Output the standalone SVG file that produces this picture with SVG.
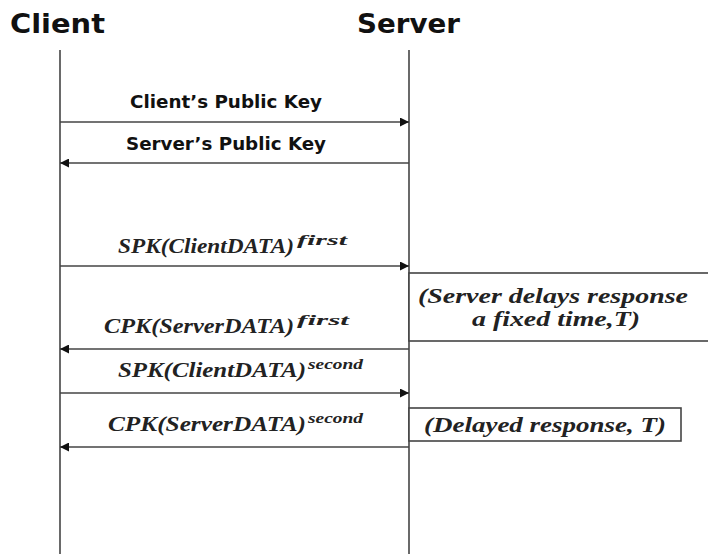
<svg xmlns="http://www.w3.org/2000/svg" width="708" height="554" viewBox="0 0 708 554">
  <defs>
    <marker id="head" viewBox="0 0 10 10" refX="10" refY="5" markerWidth="11" markerHeight="9" markerUnits="userSpaceOnUse" orient="auto">
      <path d="M0,0 L10,5 L0,10 z" fill="#111"/>
    </marker>
    <style>
      .title { font-family: "DejaVu Sans", "Noto Sans", sans-serif; font-weight: bold; font-size: 27px; fill: #111; }
      .lbl { font-family: "DejaVu Sans", "Noto Sans", sans-serif; font-weight: bold; font-size: 17px; fill: #111; }
      .math { font-family: "Liberation Serif", "DejaVu Serif", serif; font-weight: bold; font-style: italic; font-size: 20px; fill: #222; }
      .sup { font-size: 14px; }
      .life { stroke: #444; stroke-width: 1.6; fill: none; }
      .msg { stroke: #444; stroke-width: 1.6; fill: none; marker-end: url(#head); }
      .box { stroke: #444; stroke-width: 1.6; fill: #fff; }
    </style>
  </defs>
  <rect width="708" height="554" fill="#fff"/>

  <g id="client">
    <text class="title" x="10" y="33" textLength="95" lengthAdjust="spacingAndGlyphs">Client</text>
    <line class="life" x1="60" y1="50" x2="60" y2="554"/>
  </g>
  <g id="server">
    <text class="title" x="357" y="33" textLength="103" lengthAdjust="spacingAndGlyphs">Server</text>
    <line class="life" x1="409" y1="50" x2="409" y2="554"/>
  </g>

  <g id="delay-note">
    <rect class="box" x="409" y="273" width="300" height="68"/>
    <text class="math" x="418" y="303" textLength="270" lengthAdjust="spacingAndGlyphs">(Server delays response</text>
    <text class="math" x="472" y="326" textLength="168" lengthAdjust="spacingAndGlyphs">a fixed time,T)</text>
  </g>
  <g id="delayed-response-note">
    <rect class="box" x="409" y="408" width="272" height="33"/>
    <text class="math" x="424" y="432" textLength="242" lengthAdjust="spacingAndGlyphs">(Delayed response, T)</text>
  </g>

  <g id="connectors">
    <line class="msg" x1="60" y1="122" x2="409" y2="122"/>
    <line class="msg" x1="409" y1="163" x2="60" y2="163"/>
    <line class="msg" x1="60" y1="266" x2="409" y2="266"/>
    <line class="msg" x1="409" y1="349" x2="60" y2="349"/>
    <line class="msg" x1="60" y1="393" x2="409" y2="393"/>
    <line class="msg" x1="409" y1="447" x2="60" y2="447"/>
  </g>

  <g id="labels">
    <text class="lbl" x="130" y="108" textLength="192" lengthAdjust="spacingAndGlyphs">Client’s Public Key</text>
    <text class="lbl" x="126" y="150" textLength="200" lengthAdjust="spacingAndGlyphs">Server’s Public Key</text>
    <text class="math" y="253"><tspan x="118" textLength="176" lengthAdjust="spacingAndGlyphs">SPK(ClientDATA)</tspan><tspan class="sup" x="297" y="245" textLength="50" lengthAdjust="spacingAndGlyphs">first</tspan></text>
    <text class="math" y="333"><tspan x="104" textLength="190" lengthAdjust="spacingAndGlyphs">CPK(ServerDATA)</tspan><tspan class="sup" x="297" y="325" textLength="52" lengthAdjust="spacingAndGlyphs">first</tspan></text>
    <text class="math" y="377"><tspan x="118" textLength="188" lengthAdjust="spacingAndGlyphs">SPK(ClientDATA)</tspan><tspan class="sup" x="308" y="369" textLength="55" lengthAdjust="spacingAndGlyphs">second</tspan></text>
    <text class="math" y="431"><tspan x="108" textLength="198" lengthAdjust="spacingAndGlyphs">CPK(ServerDATA)</tspan><tspan class="sup" x="308" y="423" textLength="55" lengthAdjust="spacingAndGlyphs">second</tspan></text>
  </g>
</svg>
